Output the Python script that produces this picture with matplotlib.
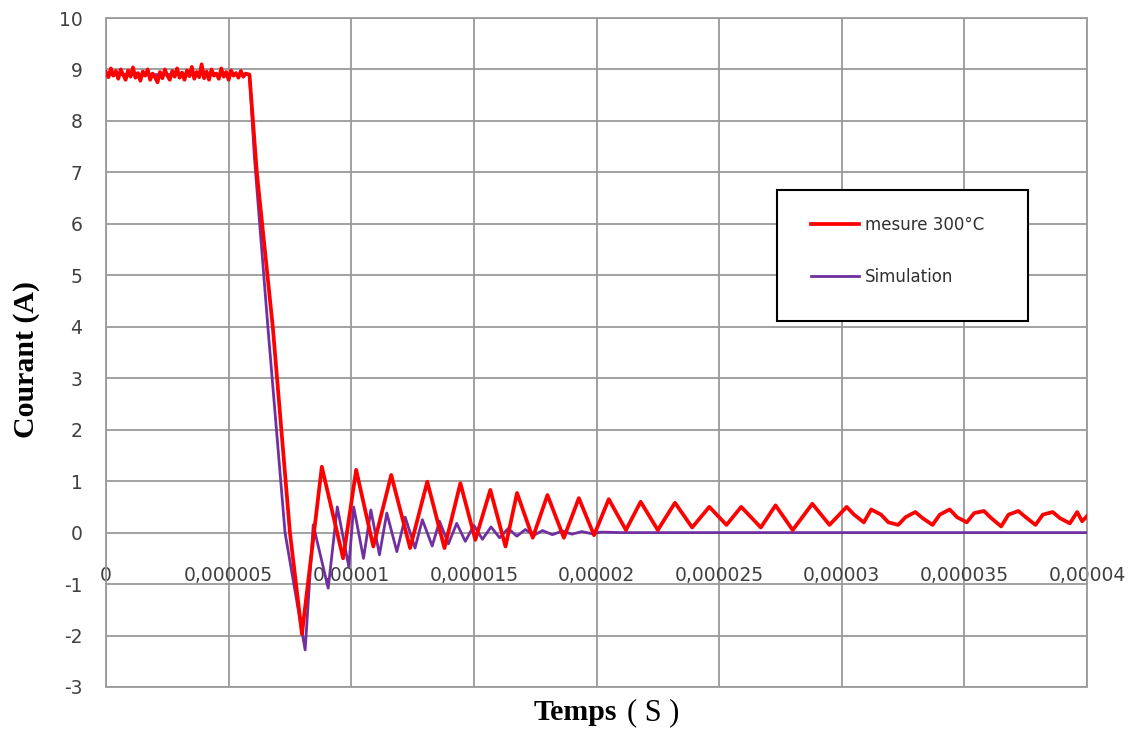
import matplotlib
matplotlib.use("Agg")
import matplotlib.pyplot as plt
import matplotlib.patches as mpatches
import numpy as np

plt.rcParams["axes.unicode_minus"] = False

# --- données (temps en microsecondes, courant en A) ---
# palier bruité avant la coupure
t_palier_us = [0.0, 0.1, 0.2, 0.3, 0.4, 0.5, 0.6, 0.7, 0.8, 0.9, 1.0, 1.1, 1.2, 1.3, 1.4,
               1.5, 1.6, 1.7, 1.8, 1.9, 2.0, 2.1, 2.2, 2.3, 2.4, 2.5, 2.6, 2.7, 2.8, 2.9,
               3.0, 3.1, 3.2, 3.3, 3.4, 3.5, 3.6, 3.7, 3.8, 3.9, 4.0, 4.1, 4.2, 4.3, 4.4,
               4.5, 4.6, 4.7, 4.8, 4.9, 5.0, 5.1, 5.2, 5.3, 5.4, 5.5, 5.6, 5.7, 5.85]
i_palier = [8.95, 8.85, 9.02, 8.88, 8.97, 8.82, 9.0, 8.9, 8.8, 8.98, 8.86, 9.04, 8.84, 8.93,
            8.78, 8.96, 8.88, 9.0, 8.8, 8.92, 8.85, 8.75, 8.95, 8.83, 9.0, 8.88, 8.8, 8.97,
            8.86, 9.02, 8.84, 8.94, 8.8, 8.98, 8.87, 9.05, 8.82, 8.95, 8.85, 9.1, 8.83,
            8.96, 8.8, 9.0, 8.88, 8.92, 8.82, 9.02, 8.86, 8.95, 8.8, 8.98, 8.88, 8.93, 8.84,
            8.97, 8.86, 8.92, 8.9]

# chute puis oscillations amorties de la mesure
t_osc_us = [6.15, 6.8, 7.5, 7.99, 8.8, 9.67, 10.2, 10.9, 11.63, 12.4, 13.1, 13.8, 14.45,
            15.06, 15.67, 16.29, 16.76, 17.4, 18.0, 18.67, 19.28, 19.9, 20.5, 21.2, 21.8,
            22.5, 23.2, 23.9, 24.6, 25.3, 25.9, 26.7, 27.3, 28.0, 28.8, 29.5, 30.2, 30.5,
            30.9, 31.2, 31.6, 31.9, 32.3, 32.6, 33.0, 33.3, 33.7, 34.0, 34.4, 34.7, 35.1,
            35.4, 35.8, 36.1, 36.5, 36.8, 37.2, 37.5, 37.9, 38.2, 38.6, 38.9, 39.3, 39.6,
            39.8, 40.0]
i_osc = [7.0, 4.0, 0.0, -1.97, 1.28, -0.5, 1.22, -0.27, 1.12, -0.3, 0.99, -0.3, 0.96,
         -0.14, 0.83, -0.27, 0.77, -0.1, 0.73, -0.1, 0.67, -0.05, 0.65, 0.05, 0.6,
         0.05, 0.58, 0.1, 0.5, 0.15, 0.5, 0.1, 0.53, 0.05, 0.56, 0.15, 0.5, 0.35,
         0.2, 0.45, 0.35, 0.2, 0.15, 0.3, 0.4, 0.28, 0.15, 0.35, 0.45, 0.3, 0.2,
         0.38, 0.42, 0.28, 0.12, 0.35, 0.42, 0.3, 0.15, 0.35, 0.4, 0.28, 0.18, 0.4,
         0.22, 0.32]

t_simu_us = [0, 5.85, 6.05, 6.6, 7.3, 8.12, 8.45, 9.06, 9.43, 9.9, 10.1, 10.5, 10.8, 11.15,
             11.45, 11.86, 12.2, 12.6, 12.9, 13.3, 13.6, 13.96, 14.3, 14.65, 15.0, 15.35,
             15.7, 16.05, 16.4, 16.75, 17.1, 17.45, 17.8, 18.2, 18.6, 19.0, 19.4, 19.8,
             20.2, 21.0, 40.0]
i_simu = [8.9, 8.9, 7.3, 4.0, 0.0, -2.28, 0.15, -1.08, 0.5, -0.66, 0.5, -0.5, 0.44, -0.43,
          0.38, -0.37, 0.3, -0.3, 0.25, -0.26, 0.22, -0.22, 0.18, -0.17, 0.14, -0.13,
          0.11, -0.1, 0.08, -0.07, 0.06, -0.05, 0.04, -0.04, 0.03, -0.03, 0.02, -0.02,
          0.01, 0.0, 0.0]

x_ticks = [0, 5e-6, 1e-5, 1.5e-5, 2e-5, 2.5e-5, 3e-5, 3.5e-5, 4e-5]
x_labels = ["0", "0,000005", "0,00001", "0,000015", "0,00002", "0,000025",
            "0,00003", "0,000035", "0,00004"]
y_ticks = list(range(-3, 11))

W, H = 1132, 733
fig = plt.figure(figsize=(W / 100, H / 100), dpi=100)
ax = fig.add_axes([106 / W, (H - 687) / H, 981 / W, 669 / H])

grid_col = "#9a9a9a"
ax.set_xlim(0, 4e-5)
ax.set_ylim(-3, 10)
ax.set_xticks(x_ticks)
ax.set_xticklabels(x_labels)
ax.set_yticks(y_ticks)
ax.grid(True, color=grid_col, linewidth=1.3)
ax.set_axisbelow(True)
for s in ax.spines.values():
    s.set_visible(False)
ax.spines["bottom"].set_position(("data", 0))
ax.tick_params(axis="both", length=0, labelsize=13.5, labelcolor="#404040")
ax.tick_params(axis="x", pad=24)
ax.tick_params(axis="y", pad=17)
ax.add_patch(mpatches.Rectangle((0, 0), 1, 1, transform=ax.transAxes, fill=False,
                                edgecolor=grid_col, linewidth=1.3, clip_on=False))

t_m = np.array(t_palier_us + t_osc_us) * 1e-6
i_m = i_palier + i_osc
t_s = np.array(t_simu_us) * 1e-6
ax.plot(t_s, i_simu, color="#7030a0", linewidth=2.0, label="Simulation", zorder=3)
ax.plot(t_m, i_m, color="#ff0000", linewidth=2.7, label="mesure 300°C", zorder=4)

# cadre de légende
ax.add_patch(mpatches.Rectangle((671 / 981, 366 / 669), 251 / 981, 131 / 669,
                                transform=ax.transAxes, facecolor="white",
                                edgecolor="black", linewidth=1.5, zorder=5))
h, l = ax.get_legend_handles_labels()
leg = ax.legend(h[::-1], l[::-1], loc="center left", bbox_to_anchor=(705 / 981, 436 / 669),
                frameon=False, fontsize=12, handlelength=2.9, handletextpad=0.35,
                labelspacing=2.05, borderpad=0, borderaxespad=0)
leg.set_zorder(6)
for txt in leg.get_texts():
    txt.set_color("#303030")

fig.text(27 / W, 1 - 359 / H, "Courant (A)", family="Liberation Serif", fontsize=21.5,
         fontweight="bold", rotation=90, ha="center", va="center")
fig.text(575 / W, 1 - 712 / H, "Temps", family="Liberation Serif", fontsize=21.5,
         fontweight="bold", ha="center", va="center")
fig.text(653 / W, 1 - 713 / H, "( S )", family="Liberation Serif", fontsize=22,
         ha="center", va="center")

fig.savefig("out.png", dpi=100)
